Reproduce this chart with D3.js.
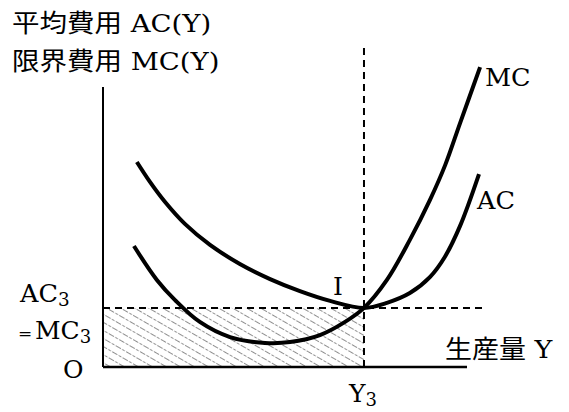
<!DOCTYPE html>
<html><head><meta charset="utf-8">
<script src="https://cdn.jsdelivr.net/npm/d3@7"></script>
<style>
html,body{margin:0;padding:0;background:#fff;}
svg{display:block;}
</style></head>
<body>
<script>
// Data (arbitrary units: x 0..100 along output axis, y 0..100 along cost axis)
const mcX = [8.5, 14.8, 19.8, 26.6, 34.9, 44.5, 51.4, 59.6, 66.5, 71.7, 78.0, 84.3, 89.8, 94.0, 98.1, 103.6];
const mcY = [43.2, 31.1, 23.9, 16.1, 10.7, 8.6, 8.9, 11.4, 16.1, 21.1, 31.1, 45.4, 59.6, 72.1, 87.1, 107.1];
const acX = [9.3, 12.9, 17.0, 22.5, 29.4, 37.6, 45.9, 54.1, 62.4, 71.7, 78.0, 84.3, 89.8, 93.9, 98.1, 103.3];
const acY = [73.2, 66.1, 59.0, 51.1, 43.6, 36.8, 31.4, 27.1, 23.6, 21.1, 22.9, 26.4, 32.1, 39.3, 50.4, 68.9];
const y3 = 71.7;      // output at point I
const c3 = 21.1;      // AC3 = MC3
const xMax = 100, yMax = 100;
const yAxisLabels = ["平均費用 AC(Y)", "限界費用 MC(Y)"];
const xAxisLabel = "生産量 Y";

const W = 569, H = 412;
const x = d3.scaleLinear().domain([0, xMax]).range([103, 467]);
const y = d3.scaleLinear().domain([0, yMax]).range([367, 87]);

const svg = d3.select("body").append("svg").attr("width", W).attr("height", H);
const FONT = "'DejaVu Serif', 'Noto Sans CJK JP', serif";

// hatch pattern
const defs = svg.append("defs");
const pat = defs.append("pattern").attr("id", "hatch").attr("patternUnits", "userSpaceOnUse")
  .attr("width", 12).attr("height", 7).attr("patternTransform", "rotate(30)");
pat.append("line").attr("x1", 0).attr("x2", 12).attr("y1", 3.5).attr("y2", 3.5)
  .attr("stroke", "#8f8f8f").attr("stroke-width", 1.1).attr("stroke-dasharray", "3,1.5");

// hatched rectangle
svg.append("rect").attr("x", x(0)).attr("y", y(c3)).attr("width", x(y3) - x(0)).attr("height", y(0) - y(c3))
  .attr("fill", "url(#hatch)");

// axes
svg.append("line").attr("x1", x(0)).attr("x2", x(0)).attr("y1", y(0)).attr("y2", y(yMax))
  .attr("stroke", "#000").attr("stroke-width", 2);
svg.append("line").attr("x1", x(0)).attr("x2", x(xMax)).attr("y1", y(0)).attr("y2", y(0))
  .attr("stroke", "#000").attr("stroke-width", 2.4);

// dashed guides
svg.append("line").attr("x1", x(y3)).attr("x2", x(y3)).attr("y1", y(0)).attr("y2", 45)
  .attr("stroke", "#000").attr("stroke-width", 2).attr("stroke-dasharray", "7,5");
svg.append("line").attr("x1", x(0)).attr("x2", 485).attr("y1", y(c3)).attr("y2", y(c3))
  .attr("stroke", "#000").attr("stroke-width", 2).attr("stroke-dasharray", "7,5");

// curves
const line = d3.line().x(d => x(d[0])).y(d => y(d[1])).curve(d3.curveCatmullRom.alpha(0.5));
svg.append("path").datum(mcX.map((v, i) => [v, mcY[i]])).attr("d", line)
  .attr("fill", "none").attr("stroke", "#000").attr("stroke-width", 4);
svg.append("path").datum(acX.map((v, i) => [v, acY[i]])).attr("d", line)
  .attr("fill", "none").attr("stroke", "#000").attr("stroke-width", 4);

// text helper (slightly stretched horizontally like the reference)
function label(tx, ty, size, parts, sx = 1.08) {
  const t = svg.append("text").attr("transform", `translate(${tx},${ty}) scale(${sx},1)`)
    .attr("font-family", FONT).attr("font-size", size).attr("fill", "#000");
  parts.forEach(p => {
    const s = t.append("tspan").text(p.t);
    if (p.size) s.attr("font-size", p.size);
    if (p.dy) s.attr("dy", p.dy);
  });
  return t;
}

label(12, 32, 25, [{t: yAxisLabels[0]}], 1.1);
label(12, 70, 25, [{t: yAxisLabels[1]}], 1.1);
label(485, 86, 25, [{t: "MC"}], 1.02);
label(477, 209, 25, [{t: "AC"}], 1.02);
label(333, 295, 25, [{t: "I"}], 1.0);
label(20, 302, 25, [{t: "AC"}, {t: "3", size: 18, dy: 4}], 1.02);
label(18, 339, 17, [{t: "="}], 1.0);
label(35, 339, 25, [{t: "MC"}, {t: "3", size: 18, dy: 4}], 1.0);
label(63, 378, 25, [{t: "O"}], 1.0);
label(445, 358, 25, [{t: xAxisLabel}], 1.08);
label(349, 402, 25, [{t: "Y"}, {t: "3", size: 18, dy: 4}], 1.0);
</script>
</body></html>
